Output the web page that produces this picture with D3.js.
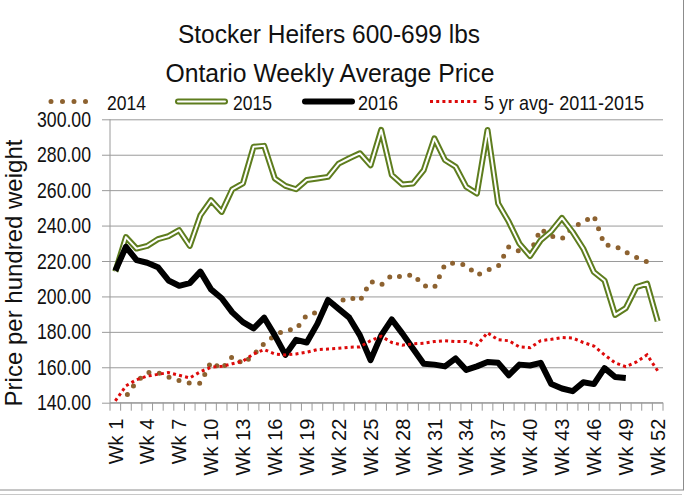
<!DOCTYPE html>
<meta charset="utf-8">
<head>
<script src="https://cdnjs.cloudflare.com/ajax/libs/d3/7.8.5/d3.min.js"></script>
<style type="text/css">
body {
  margin: 0;
  background: #fff;
}
.lbl {
  font-family: "Liberation Sans", Arial, sans-serif;
  fill: #111;
}
</style>
</head>
<body>
<div id="chart"></div>
<script>

// weekly prices, $/cwt
var weeks = d3.range(1, 53).map(function(w) { return "Wk " + w; });
var tickWeeks = ["Wk 1", "Wk 4", "Wk 7", "Wk 10", "Wk 13", "Wk 16", "Wk 19", "Wk 22", "Wk 25",
                 "Wk 28", "Wk 31", "Wk 34", "Wk 37", "Wk 40", "Wk 43", "Wk 46", "Wk 49", "Wk 52"];
var yTicks = [140, 160, 180, 200, 220, 240, 260, 280, 300];

var y2014 = [null, 143.5, 152, 157, 157, 154.5, 152.5, 151, 151, 163, 159, 166, 162, 167, 173.5, 178,
             181, 181.5, 189.5, 191, 194, 197, 199.5, 197.5, 208.5, 206.5, 212, 211, 212.5, 206, 205, 218,
             219, 217.5, 212, 214.8, 217, 228, 225.5, 224.5, 238, 234, 232.5, 239, 242, 245.5, 229, 228.5,
             225, 222, 219.5, null];

var y2015 = [214, 233.5, 227, 228.5, 232.3, 234, 237.4, 228.5, 245.8, 254.3, 247.7, 260.5, 263.8, 284.5,
             285, 266.6, 262.4, 260.5, 265.7, 266.6, 267.5, 275, 278, 280.8, 274, 294, 268.5, 263.2, 263.8,
             271.3, 289.2, 277, 273.2, 261.9, 258.1, 294, 252.4, 242.1, 229.8, 222.8, 231.7, 236.8, 244.3,
             236.4, 227, 213.8, 209, 189.6, 193.4, 205.3, 207.2, 186];

var y2016 = [214.5, 228, 220.5, 219, 216.5, 209, 206, 207.5, 214, 204, 199, 191, 185.5, 182, 188, 178,
             167, 175.5, 174, 184.5, 198, 193, 188, 178, 164, 178, 187, 179, 170.5, 162, 161.5, 160.5, 165,
             158.5, 160.5, 163, 162.5, 155.5, 161.5, 161, 162.5, 150.5, 148, 146.5, 151.5, 150.5, 159.5,
             154.5, 154];

var avg5yr = [141, 149.5, 153, 155, 156, 157, 155.5, 154, 157.5, 160, 160.5, 162, 163.5, 167.5, 170, 167.5,
              167, 167.5, 168.5, 170, 170.3, 170.7, 171.3, 171.5, 175, 177.5, 174, 172.5, 173.2, 173.6,
              174.5, 175, 174.5, 174.5, 172.5, 179.5, 175.5, 175, 171.5, 171, 175, 175.8, 176.8, 176.5,
              174, 172, 167, 162.5, 160.3, 163, 167, 158];

var W = 693, H = 496;
var plot = {left: 110, right: 663, top: 119.3, bottom: 402.7};

var svg = d3.select("#chart").append("svg")
    .attr("width", W)
    .attr("height", H);

// frame
svg.append("rect")
    .attr("x", -1).attr("y", -1)
    .attr("width", 684.5).attr("height", 491)
    .attr("fill", "none")
    .attr("stroke", "#8c8c8c");
svg.append("line")
    .attr("x1", 0).attr("x2", 682).attr("y1", 494.5).attr("y2", 494.5)
    .attr("stroke", "#c8c8c8");

var x = d3.scaleBand()
    .domain(weeks)
    .range([plot.left, plot.right])
    .padding(0);
var y = d3.scaleLinear()
    .domain([140, 300])
    .range([plot.bottom, plot.top]);

function cx(w) { return x(w) + x.bandwidth() / 2; }

// the original font is condensed, so squeeze horizontal text to its measured width
function squeeze(sel, len) {
  sel.attr("textLength", len).attr("lengthAdjust", "spacingAndGlyphs");
}

// title
svg.append("text").attr("class", "lbl")
    .attr("x", 329).attr("y", 43)
    .attr("text-anchor", "middle")
    .style("font-size", "25.5px")
    .text("Stocker Heifers 600-699 lbs")
    .call(squeeze, 302);
svg.append("text").attr("class", "lbl")
    .attr("x", 330).attr("y", 81.5)
    .attr("text-anchor", "middle")
    .style("font-size", "25.5px")
    .text("Ontario Weekly Average Price")
    .call(squeeze, 329);

// gridlines + y axis
var yAxis = svg.append("g")
    .attr("transform", "translate(" + plot.left + ",0)")
    .call(d3.axisLeft(y).tickValues(yTicks)
        .tickSize(-(plot.right - plot.left))
        .tickPadding(19)
        .tickFormat(d3.format(".2f")));
yAxis.select(".domain").remove();
yAxis.selectAll("line")
    .attr("x1", -8)
    .attr("stroke", "#9a9a9a");
yAxis.selectAll("text")
    .attr("class", "lbl")
    .attr("font-family", null)
    .style("font-size", "22px")
    .call(squeeze, 54);

svg.append("line")
    .attr("x1", plot.left).attr("x2", plot.left)
    .attr("y1", plot.top).attr("y2", plot.bottom + 8)
    .attr("stroke", "#9a9a9a");

// x axis: ticks between weeks, label every third week
var xAxis = svg.append("g")
    .attr("transform", "translate(0," + plot.bottom + ")");
xAxis.append("line")
    .attr("x1", plot.left).attr("x2", plot.right)
    .attr("stroke", "#9a9a9a");
xAxis.selectAll(".xtick")
    .data(weeks)
    .enter().append("line")
    .attr("class", "xtick")
    .attr("x1", function(d) { return x(d) + x.bandwidth(); })
    .attr("x2", function(d) { return x(d) + x.bandwidth(); })
    .attr("y1", 0).attr("y2", 8)
    .attr("stroke", "#9a9a9a");
xAxis.selectAll(".xlab")
    .data(tickWeeks)
    .enter().append("text")
    .attr("class", "lbl xlab")
    .attr("transform", function(d) { return "translate(" + cx(d) + ",16) rotate(-90)"; })
    .attr("text-anchor", "end")
    .attr("dy", "0.36em")
    .style("font-size", "20px")
    .text(function(d) { return d; });

// y title
svg.append("text").attr("class", "lbl")
    .attr("transform", "translate(22,273) rotate(-90)")
    .attr("text-anchor", "middle")
    .style("font-size", "24px")
    .text("Price per hundred weight");

// series
function lineFor(vals) {
  return d3.line()
      .defined(function(d) { return d != null; })
      .x(function(d, i) { return cx(weeks[i]); })
      .y(function(d) { return y(d); })(vals);
}

var brown = "#8d6230", green = "#5e7d1e", red = "#dd0a0a";

svg.append("path")
    .attr("d", lineFor(y2014))
    .attr("fill", "none")
    .attr("stroke", brown)
    .attr("stroke-width", 5)
    .attr("stroke-linecap", "round")
    .attr("stroke-dasharray", "0,10.5")
    .attr("stroke-dashoffset", 8);

svg.append("path")
    .attr("d", lineFor(y2015))
    .attr("fill", "none")
    .attr("stroke", green)
    .attr("stroke-width", 6)
    .attr("stroke-linejoin", "round");
svg.append("path")
    .attr("d", lineFor(y2015))
    .attr("fill", "none")
    .attr("stroke", "#fff")
    .attr("stroke-width", 2)
    .attr("stroke-linejoin", "round");

svg.append("path")
    .attr("d", lineFor(y2016))
    .attr("fill", "none")
    .attr("stroke", "#000")
    .attr("stroke-width", 6)
    .attr("stroke-linejoin", "round");

svg.append("path")
    .attr("d", lineFor(avg5yr))
    .attr("fill", "none")
    .attr("stroke", red)
    .attr("stroke-width", 3)
    .attr("stroke-dasharray", "3,3.2");

// legend
var ly = 101.5;
var legend = svg.append("g");
legend.append("line")
    .attr("x1", 51).attr("x2", 97).attr("y1", ly).attr("y2", ly)
    .attr("stroke", brown).attr("stroke-width", 5)
    .attr("stroke-linecap", "round").attr("stroke-dasharray", "0,11.5");
legend.append("line")
    .attr("x1", 178).attr("x2", 225).attr("y1", ly).attr("y2", ly)
    .attr("stroke", green).attr("stroke-width", 6).attr("stroke-linecap", "round");
legend.append("line")
    .attr("x1", 178).attr("x2", 225).attr("y1", ly).attr("y2", ly)
    .attr("stroke", "#fff").attr("stroke-width", 2).attr("stroke-linecap", "round");
legend.append("line")
    .attr("x1", 305).attr("x2", 352).attr("y1", ly).attr("y2", ly)
    .attr("stroke", "#000").attr("stroke-width", 6).attr("stroke-linecap", "round");
legend.append("line")
    .attr("x1", 430).attr("x2", 478).attr("y1", ly).attr("y2", ly)
    .attr("stroke", red).attr("stroke-width", 3).attr("stroke-dasharray", "3,3.2");

var legendText = [["2014", 107, 39], ["2015", 233, 39], ["2016", 358, 40], ["5 yr avg- 2011-2015", 484, 160]];
legend.selectAll(".ltxt")
    .data(legendText)
    .enter().append("text")
    .attr("class", "lbl ltxt")
    .attr("x", function(d) { return d[1]; })
    .attr("y", 110)
    .attr("textLength", function(d) { return d[2]; })
    .attr("lengthAdjust", "spacingAndGlyphs")
    .style("font-size", "21px")
    .text(function(d) { return d[0]; });

</script>
</body>
